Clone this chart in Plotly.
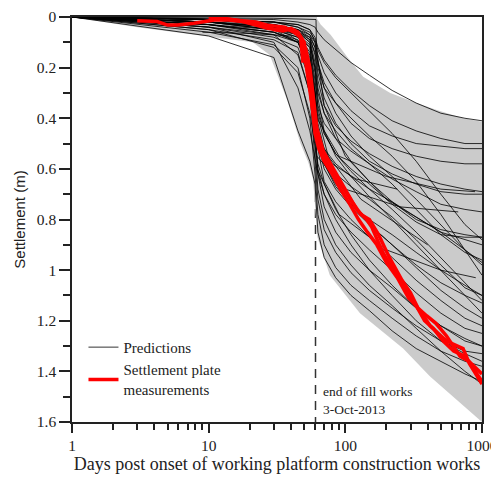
import math
import plotly.graph_objects as go

# ---------------- data ----------------
pred_days = [1, 10, 30, 45, 55, 60, 63, 70, 85, 110, 150, 220, 330, 500, 750, 1000]

pred_01 = [0, .005, .01, .02, .03, .04, .06, .09, .13, .18, .23, .29, .34, .38, .40, .41]
pred_02 = [0, .01, .02, .03, .05, .08, .12, .17, .23, .29, .35, .41, .45, .48, .50, .50]
pred_03 = [0, .01, .03, .05, .07, .10, .15, .22, .30, .37, .43, .47, .50, .51, .52, .52]
pred_04 = [0, .02, .04, .06, .08, .12, .18, .26, .34, .42, .48, .52, .55, .57, .58, .58]
pred_05 = [0, .01, .02, .04, .06, .09, .13, .18, .24, .30, .37, .46, .57, .70, .82, .88]
pred_06 = [0, .02, .03, .05, .08, .15, .25, .35, .43, .49, .54, .59, .63, .66, .68, .69]
pred_07 = [0, .01, .03, .06, .10, .20, .30, .38, .45, .52, .58, .64, .69, .74, .76, .77]
pred_08 = [0, .02, .05, .08, .12, .25, .35, .42, .48, .53, .58, .66, .76, .86, .93, .96]
pred_09 = [0, .01, .02, .04, .07, .12, .20, .28, .34, .40, .47, .55, .65, .78, .92, 1.02]
pred_10 = [0, .02, .04, .06, .10, .22, .36, .46, .54, .60, .66, .74, .81, .86, .87, .87]
pred_11 = [0, .03, .05, .07, .12, .28, .42, .52, .58, .63, .68, .73, .79, .85, .92, .97]
pred_12 = [0, .02, .04, .07, .14, .30, .45, .55, .62, .67, .72, .79, .88, .98, 1.07, 1.10]
pred_13 = [0, .01, .03, .05, .09, .18, .28, .38, .48, .57, .65, .73, .80, .84, .86, .87]
pred_14 = [0, .03, .06, .09, .18, .35, .50, .60, .68, .75, .82, .90, .99, 1.08, 1.15, 1.19]
pred_15 = [0, .02, .05, .08, .15, .33, .52, .65, .73, .80, .87, .95, 1.04, 1.12, 1.19, 1.22]
pred_16 = [0, .04, .07, .10, .22, .45, .60, .70, .78, .85, .92, 1.00, 1.09, 1.17, 1.23, 1.25]
pred_17 = [0, .03, .06, .10, .20, .42, .62, .75, .85, .93, 1.00, 1.07, 1.15, 1.22, 1.28, 1.30]
pred_18 = [0, .05, .09, .14, .30, .55, .72, .84, .93, 1.01, 1.08, 1.15, 1.22, 1.28, 1.32, 1.33]
pred_19 = [0, .06, .11, .20, .40, .62, .78, .90, .99, 1.06, 1.12, 1.19, 1.26, 1.32, 1.36, 1.38]
pred_20 = [0, .075, .16, .45, .57, .66, .85, .95, 1.03, 1.10, 1.16, 1.24, 1.31, 1.36, 1.41, 1.44]
pred_21 = [0, .04, .08, .12, .25, .50, .68, .80, .90, .98, 1.06, 1.14, 1.23, 1.32, 1.40, 1.45]
pred_22 = [0, .04, .10, .28, .45, .55, .62, .70, .80, .90, 1.00, 1.10, 1.20, 1.28, 1.33, 1.36]
pred_23 = [0, .01, .02, .03, .05, .10, .18, .28, .38, .47, .55, .63, .72, .82, .92, .98]
pred_24 = [0, .02, .04, .07, .11, .20, .32, .45, .55, .63, .71, .80, .90, 1.00, 1.10, 1.17]
pred_25 = [0, .03, .06, .10, .16, .30, .46, .58, .67, .74, .80, .86, .93, 1.00, 1.06, 1.10]
pred_26 = [0, .01, .03, .06, .09, .14, .22, .32, .42, .50, .57, .62, .66, .69, .70, .70]
pred_27 = [0, .05, .12, .22, .38, .50, .58, .66, .76, .86, .96, 1.06, 1.15, 1.22, 1.27, 1.30]
pred_28 = [0, .03, .07, .15, .30, .42, .50, .58, .66, .74, .82, .90, .98, 1.05, 1.10, 1.13]
pred_29 = [0, .02, .05, .10, .20, .30, .38, .46, .54, .61, .68, .76, .85, .95, 1.05, 1.12]

step_days = [1, 30, 61, 61.5, 70, 100, 200, 500, 1000]
step_pred = [0, .005, .01, .12, .35, .55, .72, .85, .90]

short_days_1 = [60, 80, 120, 240]
short_pred_1 = [0.45, 0.58, 0.64, 0.68]
short_days_2 = [62, 90, 200, 500, 890]
short_pred_2 = [0.40, 0.55, 0.63, 0.68, 0.69]
short_days_3 = [62, 100, 250, 670]
short_pred_3 = [0.55, 0.68, 0.75, 0.77]
short_days_4 = [62, 90, 200, 500, 900]
short_pred_4 = [0.60, 0.78, 0.92, 1.00, 1.03]
short_days_5 = [9, 20, 40, 52, 60, 75, 130, 400]
short_pred_5 = [0.06, 0.065, 0.075, 0.12, 0.35, 0.55, 0.72, 0.90]

band_upper_days = [1, 61, 66, 78, 103, 135, 213, 333, 467, 727, 1000]
band_upper = [0, 0, 0.03, 0.07, 0.157, 0.236, 0.30, 0.34, 0.367, 0.40, 0.414]
band_lower_days = [1, 3, 13.7, 21, 28, 37.6, 47, 53.6, 58, 62.5, 77, 128, 265, 417, 1000]
band_lower = [0, 0.04, 0.087, 0.10, 0.15, 0.33, 0.50, 0.575, 0.64, 0.87, 1.02, 1.17, 1.31, 1.42, 1.6]

meas_days_1 = [3.0, 4.2, 5.0, 5.9, 7.8, 9.8, 11, 14, 19, 24, 30, 36, 42, 47, 49, 51, 55, 58, 62, 69,
               78, 87, 103, 121, 143, 156, 188, 253, 306, 362, 417, 550, 727, 810, 960, 1000]
meas_1 = [0.015, 0.018, 0.032, 0.032, 0.025, 0.015, 0.012, 0.012, 0.02, 0.03, 0.035, 0.04, 0.06, 0.08,
          0.18, 0.12, 0.2, 0.32, 0.44, 0.53, 0.58, 0.63, 0.70, 0.76, 0.80, 0.83, 0.93, 1.05, 1.12, 1.17,
          1.22, 1.28, 1.31, 1.37, 1.43, 1.45]
meas_days_2 = [10, 13, 17, 22, 27, 32, 38, 44, 48, 52, 56, 60, 65, 72, 82, 95, 112, 130, 150, 175,
               210, 260, 300, 340, 393, 460, 550, 690, 800, 1000]
meas_2 = [0.0, 0.005, 0.015, 0.03, 0.045, 0.05, 0.05, 0.06, 0.09, 0.20, 0.33, 0.43, 0.50, 0.56, 0.61,
          0.67, 0.73, 0.78, 0.80, 0.86, 0.95, 1.04, 1.09, 1.15, 1.18, 1.21, 1.26, 1.34, 1.36, 1.41]
meas_days_3 = [14, 18, 22, 26, 30, 35, 40, 45, 50, 54, 57, 60, 64, 70, 80, 92, 108, 125, 145, 170,
               200, 240, 290, 330, 380, 440, 520, 620, 750, 900, 1000]
meas_3 = [0.01, 0.015, 0.02, 0.03, 0.05, 0.055, 0.045, 0.06, 0.10, 0.22, 0.35, 0.46, 0.52, 0.57, 0.62,
          0.68, 0.74, 0.80, 0.85, 0.90, 0.97, 1.03, 1.11, 1.14, 1.20, 1.23, 1.28, 1.32, 1.34, 1.40, 1.44]

end_of_fill_day = 60.5

x_tick_vals = [1, 10, 100, 1000]
x_tick_text = ["1", "10", "100", "1000"]
x_minor_vals = [2, 3, 4, 5, 6, 7, 8, 9, 20, 30, 40, 50, 60, 70, 80, 90, 200, 300, 400, 500, 600, 700, 800, 900]
y_tick_vals = [0, 0.2, 0.4, 0.6, 0.8, 1.0, 1.2, 1.4, 1.6]
y_tick_text = ["0", "0.2", "0.4", "0.6", "0.8", "1", "1.2", "1.4", "1.6"]
y_minor_vals = [0.1, 0.3, 0.5, 0.7, 0.9, 1.1, 1.3, 1.5]

# ---------------- figure ----------------
SERIF = "Liberation Serif, Times New Roman, serif"
fig = go.Figure()

# end-of-fill dashed line (under band)
fig.add_trace(go.Scatter(x=[end_of_fill_day, end_of_fill_day], y=[0, 1.6], mode="lines",
                         line=dict(color="#333333", width=1.5, dash="9px,7px"),
                         showlegend=False, hoverinfo="skip"))

# band
fig.add_trace(go.Scatter(x=band_upper_days + band_lower_days[::-1],
                         y=band_upper + band_lower[::-1],
                         fill="toself", fillcolor="#cbcbcb", mode="lines",
                         line=dict(width=0, color="#cbcbcb"),
                         showlegend=False, hoverinfo="skip"))

predictions = [pred_01, pred_02, pred_03, pred_04, pred_05, pred_06, pred_07, pred_08, pred_09,
               pred_10, pred_11, pred_12, pred_13, pred_14, pred_15, pred_16, pred_17, pred_18,
               pred_19, pred_20, pred_21, pred_22, pred_23, pred_24, pred_25, pred_26, pred_27,
               pred_28, pred_29]
pred_line = dict(color="rgba(0,0,0,0.8)", width=1)
for i, p in enumerate(predictions):
    fig.add_trace(go.Scatter(x=pred_days, y=p, mode="lines", line=pred_line,
                             name="Predictions", showlegend=(i == 0), legendrank=1))
extra = [(step_days, step_pred), (short_days_1, short_pred_1), (short_days_2, short_pred_2),
         (short_days_3, short_pred_3), (short_days_4, short_pred_4), (short_days_5, short_pred_5)]
for dx, dy in extra:
    fig.add_trace(go.Scatter(x=dx, y=dy, mode="lines", line=pred_line, showlegend=False))

meas = [(meas_days_1, meas_1), (meas_days_2, meas_2), (meas_days_3, meas_3)]
for i, (dx, dy) in enumerate(meas):
    fig.add_trace(go.Scatter(x=dx, y=dy, mode="lines", line=dict(color="#ff0000", width=3.5),
                             name="Settlement plate<br>measurements", showlegend=(i == 0), legendrank=2))

fig.add_annotation(x=math.log10(end_of_fill_day), y=1.515, xref="x", yref="y", xshift=5,
                   text="end of fill works<br>3-Oct-2013",
                   showarrow=False, xanchor="left", yanchor="middle", align="left",
                   font=dict(family=SERIF, size=13.5, color="#222"))

# page body has an 8px margin: figure is sized to fit the 499x478 window from (8, 8)
fig.update_layout(
    width=491, height=470,
    margin=dict(l=64, r=17, t=9, b=56),
    paper_bgcolor="white", plot_bgcolor="white",
    font=dict(family=SERIF, size=15, color="#222"),
    legend=dict(x=0.028, y=0.225, xanchor="left", yanchor="top", bgcolor="rgba(0,0,0,0)",
                font=dict(family=SERIF, size=15, color="#222"), itemwidth=30,
                traceorder="normal"),
    xaxis=dict(type="log", range=[0, 3], showgrid=False, zeroline=False, automargin=False,
               showline=True, linecolor="#222", linewidth=1.5, mirror=True,
               ticks="outside", ticklen=9, tickwidth=1.5, tickcolor="#222",
               tickvals=x_tick_vals, ticktext=x_tick_text,
               minor=dict(tickvals=x_minor_vals, ticks="outside", ticklen=6, tickwidth=1.5, tickcolor="#222", showgrid=False),
               tickfont=dict(family=SERIF, size=15.5),
               title=dict(text="\u00a0\u00a0\u00a0Days post onset of working platform construction works",
                          font=dict(family=SERIF, size=18), standoff=2)),
    yaxis=dict(range=[1.6, 0], showgrid=False, zeroline=False, automargin=False,
               showline=True, linecolor="#222", linewidth=1.5, mirror=True,
               ticks="outside", ticklen=11, tickwidth=1.5, tickcolor="#222",
               tickvals=y_tick_vals, ticktext=y_tick_text,
               minor=dict(tickvals=y_minor_vals, ticks="outside", ticklen=7, tickwidth=1.5, tickcolor="#222", showgrid=False),
               tickfont=dict(family=SERIF, size=15.5),
               title=dict(text="Settlement (m)",
                          font=dict(family="Liberation Sans Narrow, Liberation Sans, Arial Narrow, sans-serif", size=15),
                          standoff=8)),
)

fig.write_html("out.html")
